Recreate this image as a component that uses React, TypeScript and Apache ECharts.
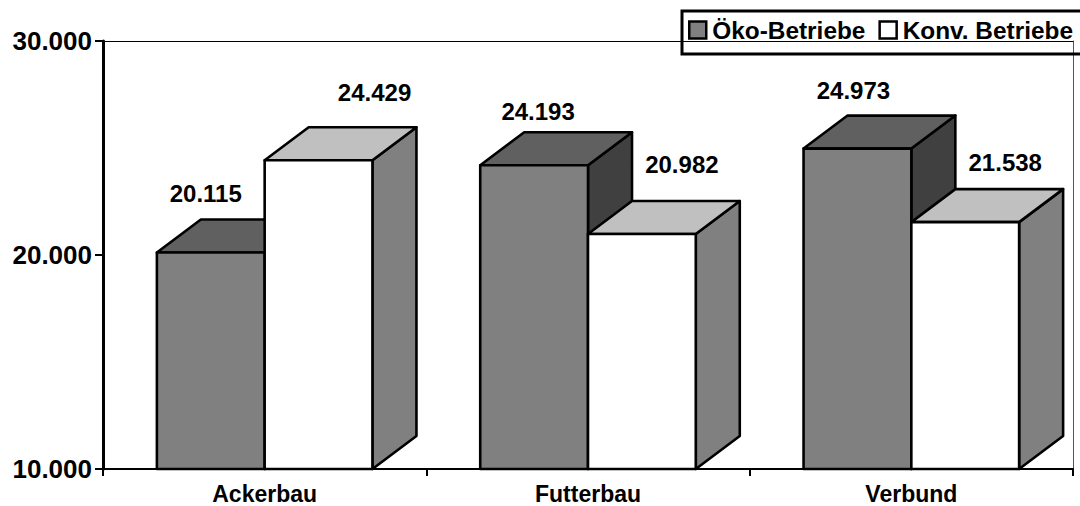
import React, { useEffect, useRef } from "react";
import * as echarts from "echarts";

const categories = ["Ackerbau", "Futterbau", "Verbund"];
const oekoValues = [20115, 24193, 24973];
const konvValues = [24429, 20982, 21538];
const seriesNames = ["Öko-Betriebe", "Konv. Betriebe"];

// Hand-placed label offsets of the original (from the front face's top centre)
const oekoLabelOffsets = [[-5, -59], [4, -54], [-4, -58]];
const konvLabelOffsets = [[56, -68], [40, -69], [40, -60]];

const FONT = '"Liberation Sans", Arial, sans-serif';
const fmt = (v: number) => {
  const s = String(v);
  return s.slice(0, -3) + "." + s.slice(-3);
};

const DEPTH_X = 44;
const DEPTH_Y = 33;

function makeRender(slot: number, colors: { front: string; top: string; side: string }, offsets: number[][]) {
  return (params: any, api: any) => {
    const idx = api.value(0);
    const val = api.value(1);
    const top = api.coord([idx, val]);
    const base = api.coord([idx, 10000]);
    const band = api.size([1, 0])[0];
    const w = band / 3;
    const x0 = top[0] - w + slot * w;
    const x1 = x0 + w;
    const yT = top[1];
    const yB = base[1];
    const line = { stroke: "#000", lineWidth: 2.6, lineJoin: "round" };
    const off = offsets[params.dataIndex];
    return {
      type: "group",
      children: [
        {
          type: "polygon",
          shape: { points: [[x1, yB], [x1 + DEPTH_X, yB - DEPTH_Y], [x1 + DEPTH_X, yT - DEPTH_Y], [x1, yT]] },
          style: { fill: colors.side, ...line },
        },
        {
          type: "polygon",
          shape: { points: [[x0, yT], [x0 + DEPTH_X, yT - DEPTH_Y], [x1 + DEPTH_X, yT - DEPTH_Y], [x1, yT]] },
          style: { fill: colors.top, ...line },
        },
        {
          type: "rect",
          shape: { x: x0, y: yT, width: w, height: yB - yT },
          style: { fill: colors.front, ...line },
        },
        {
          type: "text",
          z2: 50,
          style: {
            text: fmt(val),
            x: (x0 + x1) / 2 + off[0],
            y: yT + off[1],
            align: "center",
            verticalAlign: "middle",
            fill: "#000",
            font: `bold 24px ${FONT}`,
          },
        },
      ],
    };
  };
}

export default function App() {
  const ref = useRef<HTMLDivElement>(null);
  useEffect(() => {
    const chart = echarts.init(ref.current!, undefined, { renderer: "svg" });
    chart.setOption({
      animation: false,
      backgroundColor: "#fff",
      textStyle: { fontFamily: FONT },
      grid: { left: 103, right: 7, top: 41, bottom: 37, containLabel: false, outerBoundsMode: "none" },
      legend: {
        show: true,
        left: 682,
        top: 11,
        width: 700,
        orient: "horizontal",
        padding: [7, 60, 12, 6],
        borderColor: "#000",
        borderWidth: 3,
        itemWidth: 17,
        itemHeight: 17,
        itemGap: 13,
        selectedMode: false,
        z: 20,
        textStyle: { fontFamily: FONT, fontWeight: "bold", fontSize: 24.4, color: "#000", padding: [0, 0, 0, 1] },
        data: [
          { name: seriesNames[0], icon: "rect", itemStyle: { color: "#808080", borderColor: "#000", borderWidth: 2.5 } },
          { name: seriesNames[1], icon: "rect", itemStyle: { color: "#fff", borderColor: "#000", borderWidth: 2.5 } },
        ],
      },
      xAxis: [
        {
          type: "category",
          data: categories,
          position: "bottom",
          axisLine: { onZero: false, lineStyle: { color: "#000", width: 2 } },
          axisTick: { show: true, alignWithLabel: false, interval: 0, length: 7, lineStyle: { color: "#000", width: 2 } },
          axisLabel: { margin: 15, fontFamily: FONT, fontWeight: "bold", fontSize: 23, lineHeight: 20, color: "#000", interval: 0 },
          splitLine: { show: false },
        },
        {
          type: "category",
          data: categories,
          position: "top",
          axisLine: { show: true, onZero: false, lineStyle: { color: "#000", width: 1 } },
          axisTick: { show: false },
          axisLabel: { show: false },
          splitLine: { show: false },
        },
      ],
      yAxis: [
        {
          type: "value",
          min: 10000,
          max: 30000,
          interval: 10000,
          position: "left",
          axisLine: { show: true, lineStyle: { color: "#000", width: 3 } },
          axisTick: { show: true, length: 8, lineStyle: { color: "#000", width: 2 } },
          axisLabel: { margin: 11, fontFamily: FONT, fontWeight: "bold", fontSize: 26, color: "#000", formatter: (v: number) => fmt(v) },
          splitLine: { show: false },
        },
        {
          type: "value",
          min: 10000,
          max: 30000,
          interval: 10000,
          position: "right",
          axisLine: { show: true, lineStyle: { color: "#555", width: 1 } },
          axisTick: { show: false },
          axisLabel: { show: false },
          splitLine: { show: false },
        },
      ],
      series: [
        {
          type: "custom",
          name: seriesNames[0],
          clip: false,
          z: 3,
          data: oekoValues.map((v, i) => [i, v]),
          encode: { x: 0, y: 1 },
          renderItem: makeRender(0, { front: "#808080", top: "#606060", side: "#404040" }, oekoLabelOffsets),
        },
        {
          type: "custom",
          name: seriesNames[1],
          clip: false,
          z: 4,
          data: konvValues.map((v, i) => [i, v]),
          encode: { x: 0, y: 1 },
          renderItem: makeRender(1, { front: "#ffffff", top: "#c0c0c0", side: "#808080" }, konvLabelOffsets),
        },
      ],
    });
    return () => chart.dispose();
  }, []);
  return <div ref={ref} style={{ width: 1080, height: 506, position: "fixed", left: 0, top: 0 }} />;
}
